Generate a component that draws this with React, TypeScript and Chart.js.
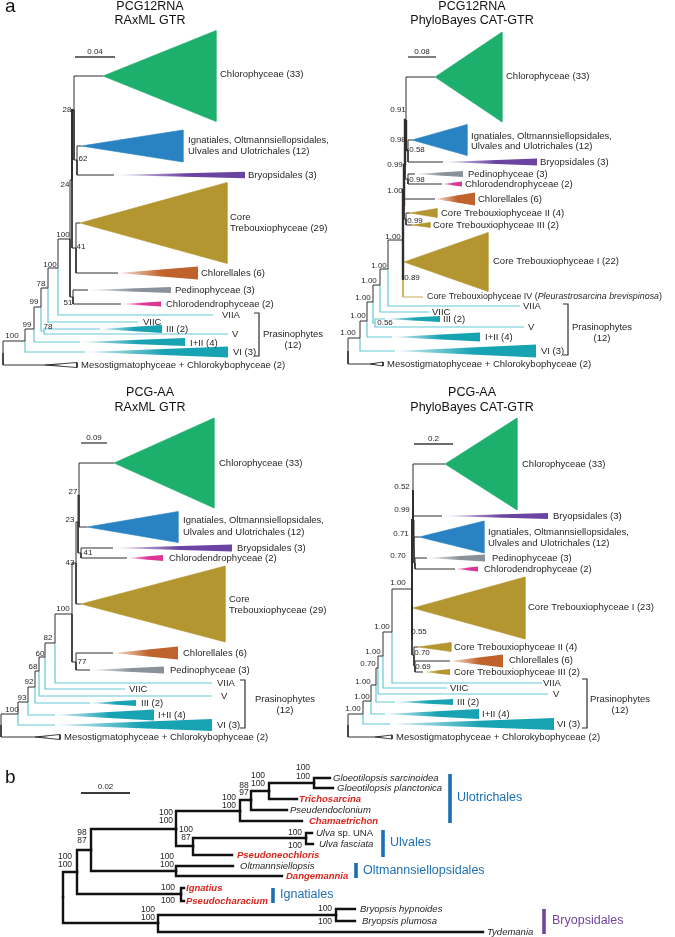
import React, { useEffect, useRef } from 'react';
import { Chart, registerables } from 'chart.js';

Chart.register(...registerables);

const W = 675;
const H = 937;
const FONT = '"Liberation Sans", Arial, Helvetica, sans-serif';

const COLORS: Record<string, string> = {
  k: '#2e2e2e',
  t: '#66c8d5',
  tw: '#18a3b3',
  gr: '#1db06d',
  bl: '#2983c3',
  pu: '#6a44a0',
  go: '#b3962f',
  or: '#c0622b',
  gy: '#89919a',
  pk: '#de3597',
  tan: '#c7ab52',
  blue: '#1c6fb4',
  purple: '#7345a1',
  red: '#d7261e',
  text: '#231f20',
};

type NodeRow = [string, string | null, number, number, string, number?];
type WedgeRow = [string, number, number, string, string];
type TextRow = [string, number, number, number?];

// ---------------- Panel a, PCG12RNA RAxML GTR ----------------
const T1_NODES: NodeRow[] = [
  ['r', null, 3, 353, 'k'],
  ['n25', 'r', 25, 341, 'k'],
  ['meso', 'r', 45, 365, 'k'],
  ['n34', 'n25', 34, 329, 'k'],
  ['vi', 'n25', 85, 352, 't'],
  ['n41', 'n34', 41, 307, 'k'],
  ['i2', 'n34', 80, 342, 't'],
  ['n48', 'n41', 48, 288, 'k'],
  ['n44', 'n41', 44, 331, 't'],
  ['iii', 'n44', 100, 329, 't'],
  ['v', 'n44', 228, 334, 't'],
  ['n58', 'n48', 58, 268, 'k'],
  ['viic', 'n48', 138, 322, 't'],
  ['n70', 'n58', 70, 239, 'k'],
  ['viia', 'n58', 213, 315, 't'],
  ['nA', 'n70', 72, 180, 'k'],
  ['nPC', 'n70', 73, 297, 'k'],
  ['nB', 'nA', 74, 110, 'k', 2],
  ['n76', 'nA', 76, 248, 'k'],
  ['chl', 'nB', 103, 76, 'k'],
  ['nIB', 'nB', 77, 160, 'k'],
  ['ign', 'nIB', 81, 146, 'k'],
  ['bry', 'nIB', 114, 175, 'k'],
  ['core', 'n76', 80, 223, 'k'],
  ['chlr', 'n76', 118, 273, 'k'],
  ['ped', 'nPC', 88, 290, 'k'],
  ['cdd', 'nPC', 121, 304, 'k'],
];
const T1_WEDGES: WedgeRow[] = [
  ['chl', 216, 45.5, 'gr', 's'],
  ['ign', 183, 16, 'bl', 's'],
  ['bry', 245, 3.3, 'pu', 'g'],
  ['core', 227, 40.5, 'go', 's'],
  ['chlr', 198, 6.5, 'or', 'g'],
  ['ped', 171, 3, 'gy', 'g'],
  ['cdd', 161, 2.5, 'pk', 'g'],
  ['iii', 162, 4, 'tw', 'g'],
  ['i2', 185, 4, 'tw', 'g'],
  ['vi', 228, 5.5, 'tw', 'g'],
  ['meso', 77, 2.5, 'k', 'm'],
];
const T1_TIPS: TextRow[] = [
  ['Chlorophyceae (33)', 220, 74],
  ['Ignatiales, Oltmannsiellopsidales,', 188, 140],
  ['Ulvales and Ulotrichales (12)', 188, 151],
  ['Bryopsidales (3)', 248, 175],
  ['Core', 230, 217],
  ['Trebouxiophyceae (29)', 230, 228],
  ['Chlorellales (6)', 201, 273],
  ['Pedinophyceae (3)', 175, 290],
  ['Chlorodendrophyceae (2)', 166, 304],
  ['VIIA', 222, 315],
  ['VIIC', 143, 322],
  ['III (2)', 166, 329],
  ['V', 232, 334],
  ['I+II (4)', 190, 343],
  ['VI (3)', 233, 352],
  ['Mesostigmatophyceae + Chlorokybophyceae (2)', 81, 365],
];
const T1_SUPPORT: TextRow[] = [
  ['28', 67, 110], ['62', 83, 159], ['24', 65, 185], ['100', 63, 235], ['41', 81, 247],
  ['51', 68, 303], ['100', 50, 265], ['78', 41, 284], ['99', 34, 302], ['78', 48, 327],
  ['99', 27, 325], ['100', 12, 336],
];

// ---------------- Panel a, PCG12RNA PhyloBayes CAT-GTR ----------------
const T2_NODES: NodeRow[] = [
  ['r', null, 348, 351, 'k'],
  ['n360', 'r', 360, 338, 'k'],
  ['meso', 'r', 370, 364, 'k'],
  ['n367', 'n360', 367, 321, 'k'],
  ['vi', 'n360', 395, 351, 't'],
  ['n373', 'n367', 373, 302, 'k'],
  ['i2', 'n367', 392, 337, 't'],
  ['n380', 'n373', 380, 285, 'k'],
  ['n375', 'n373', 375, 323, 't'],
  ['iii', 'n375', 385, 319, 't'],
  ['v', 'n375', 524, 327, 't'],
  ['n388', 'n380', 388, 269, 'k'],
  ['viic', 'n380', 429, 312, 't'],
  ['big', 'n388', 403, 240, 'k'],
  ['viia', 'n388', 520, 306, 't'],
  ['nU', 'big', 404, 190, 'k', 2.4],
  ['nCI', 'big', 403, 280, 'k', 2.4],
  ['nV', 'nU', 405, 165, 'k', 2.4],
  ['nW', 'nU', 404, 206, 'k', 2.4],
  ['nQ', 'nV', 406, 120, 'k', 2.4],
  ['nPC', 'nV', 408, 179, 'k'],
  ['chl', 'nQ', 435, 77, 'k'],
  ['nIB', 'nQ', 408, 150, 'k', 2.4],
  ['ign', 'nIB', 412, 140, 'k'],
  ['bry', 'nIB', 443, 162, 'k'],
  ['ped', 'nPC', 415, 174, 'k'],
  ['cdd', 'nPC', 442, 184, 'k'],
  ['chlr', 'nW', 435, 199, 'k'],
  ['nII', 'nW', 406, 219, 'k'],
  ['c2', 'nII', 410, 213, 'k'],
  ['c3', 'nII', 412, 225, 'k'],
  ['c1', 'nCI', 404, 262, 'k'],
  ['c4', 'nCI', 423, 297, 'tan'],
];
const T2_WEDGES: WedgeRow[] = [
  ['chl', 502, 45, 'gr', 's'],
  ['ign', 467, 15.5, 'bl', 's'],
  ['bry', 537, 3.5, 'pu', 'g'],
  ['ped', 463, 3, 'gy', 'g'],
  ['cdd', 462, 2.5, 'pk', 'g'],
  ['chlr', 475, 6.5, 'or', 'g'],
  ['c2', 437, 4.5, 'go', 's'],
  ['c3', 430, 2.5, 'go', 's'],
  ['c1', 488, 29.5, 'go', 's'],
  ['iii', 440, 3, 'tw', 'g'],
  ['i2', 480, 4.5, 'tw', 'g'],
  ['vi', 536, 6.5, 'tw', 'g'],
  ['meso', 383, 2, 'k', 'm'],
];
const T2_TIPS: TextRow[] = [
  ['Chlorophyceae (33)', 506, 76],
  ['Ignatiales, Oltmannsiellopsidales,', 471, 136],
  ['Ulvales and Ulotrichales (12)', 471, 146],
  ['Bryopsidales (3)', 540, 162],
  ['Pedinophyceae (3)', 468, 174],
  ['Chlorodendrophyceae (2)', 465, 184],
  ['Chlorellales (6)', 478, 199],
  ['Core Trebouxiophyceae II (4)', 441, 213],
  ['Core Trebouxiophyceae III (2)', 433, 225],
  ['Core Trebouxiophyceae I (22)', 493, 261],
  ['Core Trebouxiophyceae IV (*Pleurastrosarcina brevispinosa*)', 427, 297, 8.9],
  ['VIIA', 523, 306],
  ['VIIC', 432, 312],
  ['III (2)', 443, 319],
  ['V', 528, 327],
  ['I+II (4)', 485, 337],
  ['VI (3)', 541, 351],
  ['Mesostigmatophyceae + Chlorokybophyceae (2)', 387, 364],
];
const T2_SUPPORT: TextRow[] = [
  ['0.91', 398, 110], ['0.98', 398, 140], ['0.58', 417, 150], ['0.99', 395, 165],
  ['0.98', 417, 180], ['1.00', 395, 191], ['0.99', 415, 221], ['0.89', 412, 278],
  ['1.00', 393, 237], ['1.00', 379, 266], ['1.00', 369, 281], ['0.56', 385, 323],
  ['1.00', 363, 298], ['1.00', 358, 316], ['1.00', 348, 333],
];

// ---------------- Panel a, PCG-AA RAxML GTR ----------------
const T3_NODES: NodeRow[] = [
  ['r', null, 1, 725, 'k'],
  ['n18', 'r', 18, 714, 'k'],
  ['meso', 'r', 35, 737, 'k'],
  ['n28', 'n18', 28, 702, 'k'],
  ['vi', 'n18', 55, 725, 't'],
  ['n35', 'n28', 35, 687, 'k'],
  ['i2', 'n28', 55, 715, 't'],
  ['n39', 'n35', 39, 671, 'k'],
  ['iii', 'n35', 90, 703, 't'],
  ['n45', 'n39', 45, 657, 'k'],
  ['v', 'n39', 212, 696, 't'],
  ['n55', 'n45', 55, 643, 'k'],
  ['viic', 'n45', 125, 689, 't'],
  ['n100', 'n55', 72, 614, 'k'],
  ['viia', 'n55', 212, 683, 't'],
  ['n43', 'n100', 76, 563, 'k'],
  ['n77', 'n100', 76, 662, 'k'],
  ['n23', 'n43', 78, 522, 'k'],
  ['core', 'n43', 81, 604, 'k'],
  ['n27', 'n23', 79, 495, 'k'],
  ['n41', 'n23', 81, 553, 'k'],
  ['chl', 'n27', 114, 463, 'k'],
  ['ign', 'n27', 87, 527, 'k'],
  ['bry', 'n41', 113, 548, 'k'],
  ['cdd', 'n41', 127, 558, 'k'],
  ['chlr', 'n77', 113, 653, 'k'],
  ['ped', 'n77', 90, 670, 'k'],
];
const T3_WEDGES: WedgeRow[] = [
  ['chl', 214, 45, 'gr', 's'],
  ['ign', 178, 15.5, 'bl', 's'],
  ['bry', 232, 3.5, 'pu', 'g'],
  ['cdd', 163, 3, 'pk', 'g'],
  ['core', 225, 38, 'go', 's'],
  ['chlr', 178, 6.5, 'or', 'g'],
  ['ped', 164, 3.5, 'gy', 'g'],
  ['iii', 136, 3, 'tw', 'g'],
  ['i2', 154, 5.5, 'tw', 'g'],
  ['vi', 212, 6, 'tw', 'g'],
  ['meso', 60, 2.5, 'k', 'm'],
];
const T3_TIPS: TextRow[] = [
  ['Chlorophyceae (33)', 219, 463],
  ['Ignatiales, Oltmannsiellopsidales,', 183, 520],
  ['Ulvales and Ulotrichales (12)', 183, 532],
  ['Bryopsidales (3)', 237, 548],
  ['Chlorodendrophyceae (2)', 169, 558],
  ['Core', 229, 599],
  ['Trebouxiophyceae (29)', 229, 610],
  ['Chlorellales (6)', 183, 653],
  ['Pedinophyceae (3)', 170, 670],
  ['VIIA', 217, 683],
  ['VIIC', 129, 689],
  ['V', 221, 696],
  ['III (2)', 141, 703],
  ['I+II (4)', 158, 715],
  ['VI (3)', 217, 725],
  ['Mesostigmatophyceae + Chlorokybophyceae (2)', 64, 737],
];
const T3_SUPPORT: TextRow[] = [
  ['27', 73, 492], ['23', 70, 520], ['41', 88, 553], ['43', 70, 563], ['100', 63, 609],
  ['77', 82, 662], ['82', 48, 638], ['60', 40, 654], ['68', 33, 667], ['92', 29, 682],
  ['93', 22, 698], ['100', 12, 710],
];

// ---------------- Panel a, PCG-AA PhyloBayes CAT-GTR ----------------
const T4_NODES: NodeRow[] = [
  ['r', null, 348, 725, 'k'],
  ['n363', 'r', 363, 714, 'k'],
  ['meso', 'r', 375, 737, 'k'],
  ['n371', 'n363', 371, 701, 'k'],
  ['vi', 'n363', 390, 724, 't'],
  ['n376', 'n371', 376, 685, 'k'],
  ['i2', 'n371', 385, 714, 't'],
  ['n378', 'n376', 378, 668, 'k'],
  ['iii', 'n376', 395, 702, 't'],
  ['n383', 'n378', 383, 656, 'k'],
  ['v', 'n378', 548, 694, 't'],
  ['n392', 'n383', 392, 632, 'k'],
  ['viic', 'n383', 447, 688, 't'],
  ['big', 'n392', 412, 589, 'k'],
  ['viia', 'n392', 542, 683, 't'],
  ['nU', 'big', 413, 520, 'k', 2],
  ['nL', 'big', 412, 640, 'k', 2],
  ['nCB', 'nU', 413, 490, 'k', 2],
  ['nIPC', 'nU', 414, 548, 'k', 2],
  ['chl', 'nCB', 445, 464, 'k'],
  ['bry', 'nCB', 442, 516, 'k'],
  ['ign', 'nIPC', 419, 537, 'k'],
  ['nPC', 'nIPC', 415, 563, 'k'],
  ['ped', 'nPC', 427, 558, 'k'],
  ['cdd', 'nPC', 455, 569, 'k'],
  ['c1', 'nL', 413, 608, 'k'],
  ['nL2', 'nL', 414, 655, 'k'],
  ['c2', 'nL2', 418, 647, 'k'],
  ['nL3', 'nL2', 415, 666, 'k'],
  ['chlr', 'nL3', 450, 661, 'k'],
  ['c3', 'nL3', 423, 672, 'k'],
];
const T4_WEDGES: WedgeRow[] = [
  ['chl', 517, 46, 'gr', 's'],
  ['bry', 548, 3, 'pu', 'g'],
  ['ign', 484, 16, 'bl', 's'],
  ['ped', 485, 3.5, 'gy', 'g'],
  ['cdd', 478, 2.5, 'pk', 'g'],
  ['c1', 525, 31, 'go', 's'],
  ['c2', 451, 4.5, 'go', 's'],
  ['chlr', 503, 6.5, 'or', 'g'],
  ['c3', 450, 3, 'go', 'g'],
  ['iii', 453, 3, 'tw', 'g'],
  ['i2', 479, 5, 'tw', 'g'],
  ['vi', 554, 6, 'tw', 'g'],
  ['meso', 392, 2, 'k', 'm'],
];
const T4_TIPS: TextRow[] = [
  ['Chlorophyceae (33)', 522, 464],
  ['Bryopsidales (3)', 553, 516],
  ['Ignatiales, Oltmannsiellopsidales,', 488, 532],
  ['Ulvales and Ulotrichales (12)', 488, 543],
  ['Pedinophyceae (3)', 492, 558],
  ['Chlorodendrophyceae (2)', 484, 569],
  ['Core Trebouxiophyceae I (23)', 528, 607],
  ['Core Trebouxiophyceae II (4)', 454, 647],
  ['Chlorellales (6)', 509, 660],
  ['Core Trebouxiophyceae III (2)', 454, 672],
  ['VIIA', 543, 683],
  ['VIIC', 450, 688],
  ['V', 553, 694],
  ['III (2)', 457, 702],
  ['I+II (4)', 482, 714],
  ['VI (3)', 557, 724],
  ['Mesostigmatophyceae + Chlorokybophyceae (2)', 396, 737],
];
const T4_SUPPORT: TextRow[] = [
  ['0.52', 402, 487], ['0.99', 402, 510], ['0.71', 401, 534], ['0.70', 398, 556],
  ['1.00', 398, 583], ['0.55', 419, 632], ['0.70', 422, 653], ['0.69', 423, 667],
  ['1.00', 382, 627], ['1.00', 373, 652], ['0.70', 368, 664], ['1.00', 363, 682],
  ['1.00', 362, 697], ['1.00', 353, 709],
];

// ---------------- Panel b ----------------
const B_NODES: NodeRow[] = [
  ['r', null, 63, 897, 'k'],
  ['n77', 'r', 77, 872, 'k'],
  ['nBr', 'r', 158, 923, 'k'],
  ['n91', 'n77', 91, 850, 'k'],
  ['nIgn', 'n77', 181, 894, 'k'],
  ['ign1', 'nIgn', 184, 888, 'k'],
  ['ign2', 'nIgn', 184, 901, 'k'],
  ['n176', 'n91', 176, 829, 'k'],
  ['nOlt', 'n91', 176, 871, 'k'],
  ['olt', 'nOlt', 233, 866, 'k'],
  ['dan', 'nOlt', 282, 876, 'k'],
  ['n240', 'n176', 240, 811, 'k'],
  ['n193', 'n176', 193, 846, 'k'],
  ['nUl', 'n193', 306, 838, 'k'],
  ['ul1', 'nUl', 312, 833, 'k'],
  ['ul2', 'nUl', 313, 844, 'k'],
  ['pneo', 'n193', 232, 855, 'k'],
  ['n251', 'n240', 251, 800, 'k'],
  ['cha', 'n240', 302, 821, 'k'],
  ['nGT', 'n251', 269, 791, 'k'],
  ['pse', 'n251', 287, 810, 'k'],
  ['nGl', 'nGT', 314, 783, 'k'],
  ['tri', 'nGT', 297, 799, 'k'],
  ['gs', 'nGl', 330, 778, 'k'],
  ['gp', 'nGl', 333, 788, 'k'],
  ['nBp', 'nBr', 336, 915, 'k'],
  ['bh', 'nBp', 355, 909, 'k'],
  ['bp', 'nBp', 355, 921, 'k'],
  ['tyd', 'nBr', 483, 932, 'k'],
];
const B_TIPS: [string, number, number, string][] = [
  ['Gloeotilopsis sarcinoidea', 333, 778, 'i'],
  ['Gloeotilopsis planctonica', 337, 788, 'i'],
  ['Trichosarcina', 299, 799, 'r'],
  ['Pseudendoclonium', 290, 810, 'i'],
  ['Chamaetrichon', 309, 821, 'r'],
  ['*Ulva* sp. UNA', 316, 833, ''],
  ['Ulva fasciata', 319, 844, 'i'],
  ['Pseudoneochloris', 237, 855, 'r'],
  ['Oltmannsiellopsis', 240, 866, 'i'],
  ['Dangemannia', 286, 876, 'r'],
  ['Ignatius', 186, 888, 'r'],
  ['Pseudocharacium', 186, 901, 'r'],
  ['Bryopsis hypnoides', 360, 909, 'i'],
  ['Bryopsis plumosa', 362, 921, 'i'],
  ['Tydemania', 487, 932, 'i'],
];
const B_SUPPORT: TextRow[] = [
  ['100', 303, 768], ['100', 303, 777], ['100', 258, 776], ['100', 258, 784],
  ['88', 244, 786], ['97', 244, 793], ['100', 229, 798], ['100', 229, 806],
  ['100', 166, 813], ['100', 166, 821], ['100', 186, 830], ['87', 186, 838],
  ['98', 82, 833], ['87', 82, 841], ['100', 295, 833], ['100', 295, 846],
  ['100', 167, 857], ['100', 167, 865], ['100', 65, 857], ['100', 65, 865],
  ['100', 168, 888], ['100', 168, 901], ['100', 148, 910], ['100', 148, 918],
  ['100', 325, 909], ['100', 325, 922],
];
const B_GROUPS: [string, number, number, number, number, number, string][] = [
  ['Ulotrichales', 457, 798, 450, 774, 823, 'blue'],
  ['Ulvales', 390, 843, 383, 830, 857, 'blue'],
  ['Oltmannsiellopsidales', 363, 871, 356, 863, 878, 'blue'],
  ['Ignatiales', 280, 895, 273, 888, 903, 'blue'],
  ['Bryopsidales', 552, 921, 544, 909, 934, 'purple'],
];

// ---------------- Shared annotations ----------------
const BRACKETS: [number, number, number][] = [
  [259, 313, 356], [568, 304, 355], [245, 680, 728], [587, 679, 728],
];
const BRACKET_LABELS: TextRow[] = [
  ['Prasinophytes', 293, 334], ['(12)', 293, 345],
  ['Prasinophytes', 602, 327], ['(12)', 602, 338],
  ['Prasinophytes', 285, 699], ['(12)', 285, 710],
  ['Prasinophytes', 620, 699], ['(12)', 620, 710],
];
const SCALE_BARS: [number, number, number, string, number][] = [
  [75, 115, 57, '0.04', 1.3],
  [408, 436, 57, '0.08', 1.3],
  [81, 107, 443, '0.09', 1.3],
  [414, 453, 444, '0.2', 1.3],
  [81, 130, 793, '0.02', 2],
];
const TITLES: TextRow[] = [
  ['PCG12RNA', 150, 7], ['RAxML GTR', 150, 21],
  ['PCG12RNA', 472, 7], ['PhyloBayes CAT-GTR', 472, 21],
  ['PCG-AA', 150, 393], ['RAxML GTR', 150, 408],
  ['PCG-AA', 472, 393], ['PhyloBayes CAT-GTR', 472, 408],
];
const PANEL_LETTERS: TextRow[] = [['a', 5, 12], ['b', 5, 783]];

const TREES = [
  { nodes: T1_NODES, wedges: T1_WEDGES, width: 1, cap: 'butt' },
  { nodes: T2_NODES, wedges: T2_WEDGES, width: 1, cap: 'butt' },
  { nodes: T3_NODES, wedges: T3_WEDGES, width: 1, cap: 'butt' },
  { nodes: T4_NODES, wedges: T4_WEDGES, width: 1, cap: 'butt' },
  { nodes: B_NODES, wedges: [] as WedgeRow[], width: 2.4, cap: 'square' },
];

// ---------------- helpers ----------------
function tint(hex: string, f: number) {
  const n = parseInt(hex.slice(1), 16);
  const r = (n >> 16) & 255, g = (n >> 8) & 255, b = n & 255;
  const m = (c: number) => Math.round(c + (255 - c) * f);
  return `rgb(${m(r)},${m(g)},${m(b)})`;
}

function wedgeFill(x0: number, x1: number, key: string, style: string) {
  return (c: any) => {
    const chart = c.chart;
    const base = style === 'm' ? '#ffffff' : COLORS[key];
    if (style === 's') return base;
    if (!chart || !chart.chartArea || !chart.scales || !chart.scales.x) return base;
    const sx = chart.scales.x;
    const p0 = sx.getPixelForValue(x0);
    const p1 = sx.getPixelForValue(x1);
    const g = chart.ctx.createLinearGradient(p0, 0, p1, 0);
    if (style === 'm') {
      g.addColorStop(0, '#111111');
      g.addColorStop(0.55, '#ffffff');
      g.addColorStop(1, '#ffffff');
    } else {
      g.addColorStop(0, tint(COLORS[key], 0.85));
      g.addColorStop(0.55, COLORS[key]);
      g.addColorStop(1, COLORS[key]);
    }
    return g;
  };
}

function lineDs(points: { x: number; y: number }[], color: string, width: number, cap = 'butt') {
  return {
    data: points,
    borderColor: color,
    borderWidth: width,
    pointRadius: 0,
    fill: false,
    tension: 0,
    borderCapStyle: cap,
    borderJoinStyle: 'miter',
  };
}

function buildDatasets() {
  const lines: any[] = [];
  const fills: any[] = [];
  for (const tree of TREES) {
    const map = new Map<string, NodeRow>();
    tree.nodes.forEach((n) => map.set(n[0], n));
    for (const n of tree.nodes) {
      if (!n[1]) continue;
      const p = map.get(n[1])!;
      lines.push(
        lineDs(
          [
            { x: p[2], y: p[3] },
            { x: p[2], y: n[3] },
            { x: n[2], y: n[3] },
          ],
          tree.cap === 'square' ? '#111111' : COLORS[n[4]],
          (n[5] as number) ?? (n[4] === 't' ? 1.2 : tree.width),
          tree.cap
        )
      );
    }
    for (const w of tree.wedges) {
      const leaf = map.get(w[0])!;
      const x0 = leaf[2], y = leaf[3];
      const [, x1, h, key, style] = w;
      fills.push({
        data: [
          { x: x0, y },
          { x: x1, y: y - h },
          { x: x1, y: y + h },
          { x: x0, y },
        ],
        fill: 'shape',
        backgroundColor: wedgeFill(x0, x1, key, style),
        borderColor: style === 'm' ? '#111111' : style === 's' ? COLORS[key] : 'rgba(0,0,0,0)',
        borderWidth: style === 'm' ? 0.8 : 0.6,
        pointRadius: 0,
        tension: 0,
        borderJoinStyle: 'miter',
      });
    }
  }
  const extras: any[] = [];
  for (const [x, y0, y1] of BRACKETS) {
    extras.push(
      lineDs(
        [
          { x: x - 5, y: y0 },
          { x, y: y0 },
          { x, y: y1 },
          { x: x - 5, y: y1 },
        ],
        '#2e2e2e',
        1.2
      )
    );
  }
  for (const [x0, x1, y, , w] of SCALE_BARS) {
    extras.push(lineDs([{ x: x0, y }, { x: x1, y }], '#3a3a3a', w));
  }
  for (const g of B_GROUPS) {
    extras.push(lineDs([{ x: g[3], y: g[4] }, { x: g[3], y: g[5] }], COLORS[g[6]], 3.6));
  }
  return [...extras, ...lines, ...fills];
}

type TextItem = {
  text: string;
  x: number;
  y: number;
  size: number;
  align: 'left' | 'center';
  color: string;
  italic?: boolean;
  bold?: boolean;
  baseline?: CanvasTextBaseline;
};

function buildTexts(): TextItem[] {
  const out: TextItem[] = [];
  const tip = (rows: TextRow[]) =>
    rows.forEach(([text, x, y, s]) =>
      out.push({ text, x, y, size: s ?? 9.5, align: 'left', color: COLORS.text })
    );
  const sup = (rows: TextRow[], size: number) =>
    rows.forEach(([text, x, y]) => out.push({ text, x, y, size, align: 'center', color: COLORS.text }));
  [T1_TIPS, T2_TIPS, T3_TIPS, T4_TIPS].forEach(tip);
  [T1_SUPPORT, T2_SUPPORT, T3_SUPPORT, T4_SUPPORT].forEach((r) => sup(r, 8));
  sup(B_SUPPORT, 8.5);
  BRACKET_LABELS.forEach(([text, x, y]) =>
    out.push({ text, x, y, size: 9.5, align: 'center', color: COLORS.text })
  );
  TITLES.forEach(([text, x, y]) => out.push({ text, x, y, size: 12.5, align: 'center', color: '#111' }));
  SCALE_BARS.forEach(([x0, x1, y, label, w]) =>
    out.push({ text: label, x: (x0 + x1) / 2, y: y - (w > 1.5 ? 6 : 5), size: 8, align: 'center', color: COLORS.text })
  );
  PANEL_LETTERS.forEach(([text, x, y]) =>
    out.push({ text, x, y, size: 19, align: 'left', color: '#111', baseline: 'alphabetic' })
  );
  B_TIPS.forEach(([text, x, y, st]) =>
    out.push({
      text,
      x,
      y,
      size: 9.5,
      align: 'left',
      color: st === 'r' ? COLORS.red : COLORS.text,
      italic: st === 'i' || st === 'r',
      bold: st === 'r',
    })
  );
  B_GROUPS.forEach((g) =>
    out.push({ text: g[0], x: g[1], y: g[2], size: 12.5, align: 'left', color: COLORS[g[6]] })
  );
  return out;
}

function parseRuns(text: string, italic: boolean) {
  return text
    .split('*')
    .map((s, i) => ({ text: s, italic: i % 2 === 1 ? !italic : italic }))
    .filter((r) => r.text);
}

const textPlugin = {
  id: 'treeTexts',
  afterDatasetsDraw(chart: any) {
    const { ctx } = chart;
    const sx = chart.scales.x;
    const sy = chart.scales.y;
    ctx.save();
    for (const t of buildTexts()) {
      const px = sx.getPixelForValue(t.x);
      const py = sy.getPixelForValue(t.y);
      const runs = parseRuns(t.text, !!t.italic);
      const fonts = runs.map((r) => `${r.italic ? 'italic ' : ''}${t.bold ? 'bold ' : ''}${t.size}px ${FONT}`);
      const widths = runs.map((r, i) => {
        ctx.font = fonts[i];
        return ctx.measureText(r.text).width;
      });
      const total = widths.reduce((a, b) => a + b, 0);
      let cx = t.align === 'center' ? px - total / 2 : px;
      ctx.textAlign = 'left';
      ctx.textBaseline = t.baseline || 'middle';
      ctx.fillStyle = t.color;
      runs.forEach((r, i) => {
        ctx.font = fonts[i];
        ctx.fillText(r.text, cx, py);
        cx += widths[i];
      });
    }
    ctx.restore();
  },
};

export default function App() {
  const ref = useRef<HTMLCanvasElement | null>(null);
  useEffect(() => {
    if (!ref.current) return;
    const chart = new Chart(ref.current, {
      type: 'line',
      data: { datasets: buildDatasets() as any },
      options: {
        responsive: false,
        animation: false,
        devicePixelRatio: 1,
        events: [],
        layout: { padding: 0 },
        plugins: {
          legend: { display: false },
          tooltip: { enabled: false },
          title: { display: false },
        },
        scales: {
          x: { type: 'linear', min: 0, max: W, display: false },
          y: { type: 'linear', min: 0, max: H, reverse: true, display: false },
        },
      } as any,
      plugins: [textPlugin],
    });
    return () => chart.destroy();
  }, []);
  return (
    <div style={{ position: 'absolute', left: 0, top: 0, width: W, height: H, background: '#fff' }}>
      <canvas ref={ref} width={W} height={H} style={{ display: 'block', width: W, height: H }} />
    </div>
  );
}
